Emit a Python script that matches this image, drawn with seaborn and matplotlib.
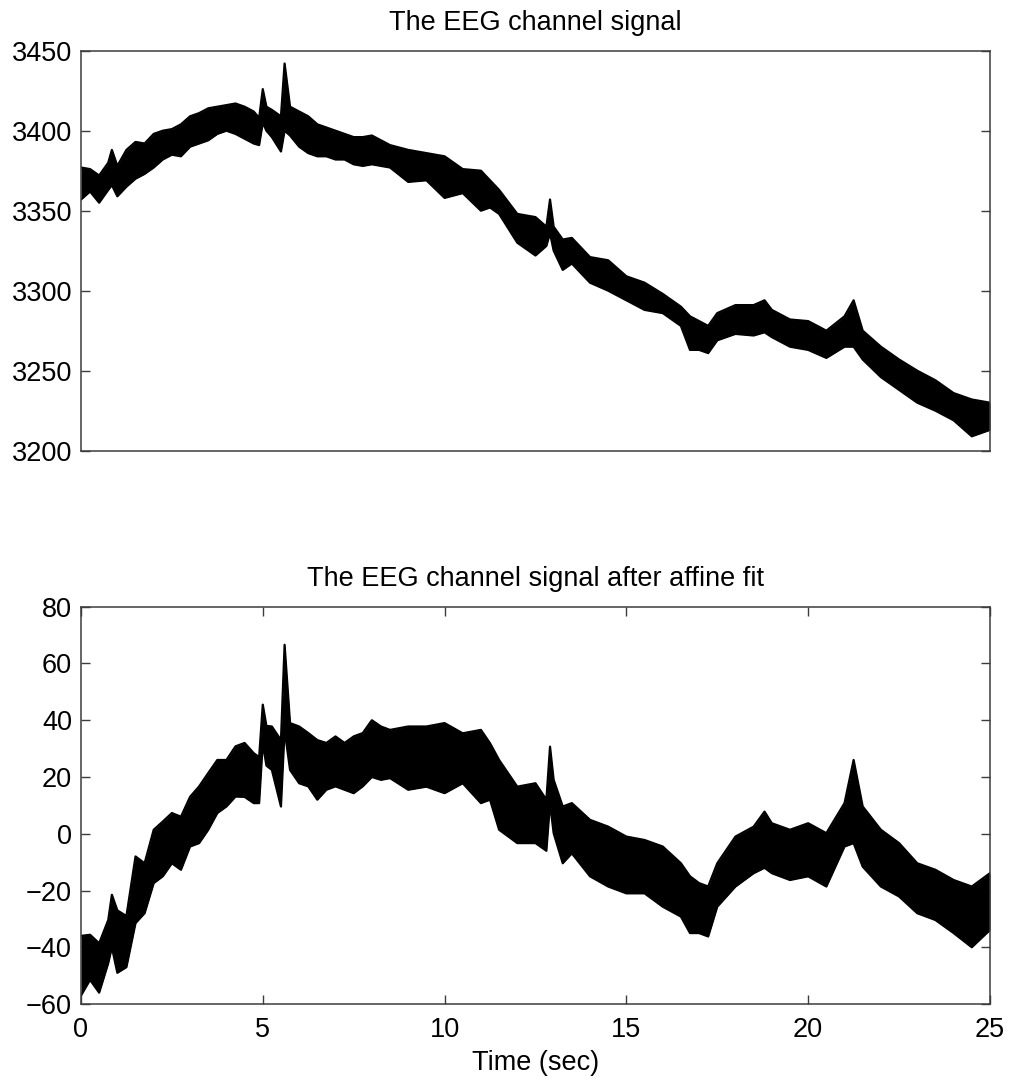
import numpy as np
import pandas as pd
import matplotlib
matplotlib.use("Agg")
import matplotlib.pyplot as plt
import seaborn as sns

sns.set_theme(style="white")
plt.rcParams['font.family'] = ['Liberation Sans', 'DejaVu Sans']

# time points (sec) where the envelope of the trace was read
time = [0, 0.25, 0.5, 0.75, 0.85, 1.0, 1.25, 1.5, 1.75, 2.0,
        2.25, 2.5, 2.75, 3.0, 3.25, 3.5, 3.75, 4.0, 4.25, 4.5,
        4.75, 4.9, 5.0, 5.1, 5.25, 5.5, 5.6, 5.75, 6.0, 6.25,
        6.5, 6.75, 7.0, 7.25, 7.5, 7.75, 8.0, 8.25, 8.5, 9.0,
        9.5, 10.0, 10.5, 11.0, 11.25, 11.5, 12.0, 12.5, 12.8, 12.9,
        13.0, 13.25, 13.5, 14.0, 14.5, 15.0, 15.5, 16.0, 16.5, 16.75,
        17.0, 17.25, 17.5, 18.0, 18.5, 18.8, 19.0, 19.5, 20.0, 20.5,
        21.0, 21.25, 21.5, 22.0, 22.5, 23.0, 23.5, 24.0, 24.5, 25.0]

# raw channel: upper / lower edge of the trace
raw_hi = [3377, 3376, 3372, 3380, 3388, 3378, 3388, 3393, 3392, 3398,
          3400, 3401, 3404, 3409, 3411, 3414, 3415, 3416, 3417, 3415,
          3412, 3408, 3426, 3415, 3413, 3409, 3442, 3415, 3412, 3409,
          3404, 3402, 3400, 3398, 3396, 3396, 3397, 3394, 3391, 3388,
          3386, 3384, 3376, 3375, 3369, 3363, 3348, 3346, 3340, 3357,
          3340, 3332, 3333, 3321, 3319, 3309, 3305, 3298, 3290, 3284,
          3281, 3278, 3286, 3291, 3291, 3294, 3288, 3282, 3281, 3275,
          3284, 3294, 3275, 3265, 3257, 3250, 3244, 3236, 3232, 3230]
raw_lo = [3357, 3362, 3355, 3363, 3366, 3359, 3365, 3370, 3373, 3377,
          3382, 3385, 3384, 3390, 3392, 3394, 3398, 3400, 3398, 3395,
          3392, 3391, 3405, 3400, 3396, 3387, 3400, 3397, 3390, 3386,
          3384, 3384, 3382, 3382, 3379, 3378, 3379, 3378, 3377, 3368,
          3369, 3358, 3361, 3350, 3352, 3348, 3330, 3322, 3328, 3336,
          3325, 3313, 3317, 3305, 3300, 3294, 3288, 3286, 3278, 3263,
          3263, 3261, 3269, 3273, 3272, 3274, 3271, 3265, 3263, 3258,
          3265, 3265, 3257, 3246, 3238, 3230, 3225, 3219, 3209, 3213]

# after affine fit: upper / lower edge
fit_hi = [-36, -35.6, -38.6, -30.4, -21.5, -27, -29, -8, -10.4, 1.4,
          4.3, 7.3, 6, 13, 16.7, 21.4, 26, 26, 30.8, 32,
          28.4, 27, 45.5, 38, 37.8, 33, 66.6, 39, 37.8, 35.5,
          33, 32, 34.3, 32, 34.3, 35.5, 40, 37.8, 36.6, 37.8,
          37.8, 39, 35.4, 36.6, 31.9, 26, 16.6, 17.8, 12, 30.7,
          19, 9.6, 10.8, 4.9, 2.5, -1, -2.2, -4.5, -10.4, -15,
          -17.4, -18.6, -10.4, -1, 2.5, 7.8, 3.7, 1.4, 3.7, 0.2,
          10.8, 26, 9.6, 1.4, -3.3, -10.4, -12.7, -16.3, -18.6, -13.9]
fit_lo = [-57, -51.5, -56, -45.6, -40, -49, -47, -31.5, -28, -17.4,
          -15, -10.4, -12.7, -4.5, -3.3, 1.4, 7.3, 9.6, 13.1, 13,
          10.8, 10.8, 32, 24, 22.5, 9.6, 36.6, 22.5, 17.8, 16.7,
          12, 15.5, 16.7, 15.5, 14.3, 16.7, 20, 19, 19.6, 15.5,
          16.6, 14.3, 17.8, 10.8, 12, 1.4, -3.3, -3.3, -6, 10.8,
          0.2, -10.4, -6.9, -15, -18.6, -21, -21, -25.7, -29.2, -35,
          -35, -36.2, -25.7, -18.6, -13.9, -12, -13.9, -16.3, -15, -18.6,
          -4.5, -3.3, -11.6, -18.6, -22.1, -28, -30.4, -35, -40, -33.9]

titles = ["The EEG channel signal", "The EEG channel signal after affine fit"]
top_yticks = [3200, 3250, 3300, 3350, 3400, 3450]
bot_yticks = [-60, -40, -20, 0, 20, 40, 60, 80]
xticks = [0, 5, 10, 15, 20, 25]

fig = plt.figure(figsize=(10.11, 10.86), dpi=100)
ax1 = fig.add_axes([0.0801, 0.585, 0.8991, 0.3683])
ax2 = fig.add_axes([0.0801, 0.0755, 0.8991, 0.3658])

fs = 19.5
spine_c = "#3c3c3c"


def draw(ax, hi, lo, title, yticks):
    df = pd.DataFrame({"t": time, "hi": hi, "lo": lo})
    ax.fill_between(df["t"], df["lo"], df["hi"], color="black", lw=0)
    sns.lineplot(data=df, x="t", y="hi", ax=ax, color="black", lw=1.6)
    sns.lineplot(data=df, x="t", y="lo", ax=ax, color="black", lw=1.6)
    ax.set_xlim(0, 25)
    ax.set_ylim(yticks[0], yticks[-1])
    ax.set_yticks(yticks)
    ax.set_xticks(xticks)
    ax.set_xlabel("")
    ax.set_ylabel("")
    ax.set_title(title, fontsize=fs, pad=15, color="black")
    for s in ax.spines.values():
        s.set_color(spine_c)
        s.set_linewidth(1.1)
    ax.tick_params(direction="in", length=6.5, width=1.0, color=spine_c,
                   labelsize=fs, labelcolor="black",
                   top=True, right=True, left=True, bottom=True)
    ax.tick_params(axis="y", pad=6.5)
    ax.tick_params(axis="x", pad=9.5)


draw(ax1, raw_hi, raw_lo, titles[0], top_yticks)
ax1.set_xticks([])

draw(ax2, fit_hi, fit_lo, titles[1], bot_yticks)
ax2.set_xlabel("Time (sec)", fontsize=fs, labelpad=5, color="black")

fig.savefig("out.png", dpi=100, facecolor="white")
